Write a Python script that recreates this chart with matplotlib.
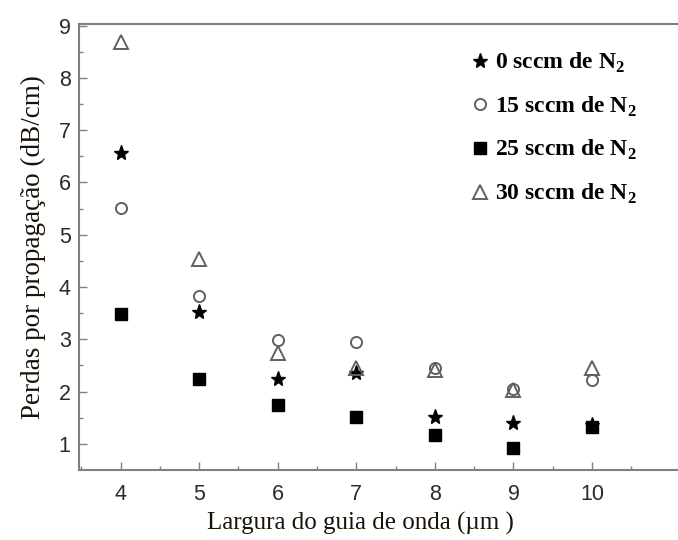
import matplotlib.pyplot as plt
import numpy as np

# largura do guia (um)
largura = [4, 5, 6, 7, 8, 9, 10]

# perdas por propagacao (dB/cm) para cada fluxo de N2
perdas_0 = [6.57, 3.53, 2.24, 2.36, 1.52, 1.40, 1.36]
perdas_15 = [5.51, 3.82, 2.99, 2.94, 2.45, 2.05, 2.22]
perdas_25 = [3.49, 2.24, 1.75, 1.52, 1.17, 0.92, 1.33]
perdas_30 = [8.69, 4.54, 2.73, 2.46, 2.41, 2.03, 2.45]

rotulos = [r'0 sccm de N$_\mathbf{2}$', r'15 sccm de N$_\mathbf{2}$',
           r'25 sccm de N$_\mathbf{2}$', r'30 sccm de N$_\mathbf{2}$']

plt.rcParams['mathtext.fontset'] = 'custom'
plt.rcParams['mathtext.rm'] = 'Liberation Serif'
plt.rcParams['mathtext.bf'] = 'Liberation Serif:bold'

fig = plt.figure(figsize=(6.78, 5.4), dpi=100)
ax = fig.add_axes([79 / 678, 70 / 540, 1 - 79 / 678 + 0.01, 446 / 540])

cinza = '#606060'
ax.plot(largura, perdas_0, linestyle='none', marker='*', markersize=11,
        color='black', label=rotulos[0])
ax.plot(largura, perdas_15, linestyle='none', marker='o', markersize=8,
        markerfacecolor='none', markeredgecolor=cinza, markeredgewidth=1.4,
        label=rotulos[1])
ax.plot(largura, perdas_25, linestyle='none', marker='s', markersize=8,
        color='black', label=rotulos[2])
ax.plot(largura, perdas_30, linestyle='none', marker='^', markersize=10,
        markerfacecolor='none', markeredgecolor=cinza, markeredgewidth=1.4,
        label=rotulos[3])

ax.set_xlim(3.47, 11.18)
ax.set_ylim(0.5, 9.03)
ax.set_xticks(largura)
ax.set_xticks(np.arange(3.5, 11, 0.5), minor=True)
ax.set_yticks(range(1, 10))
ax.set_yticks(np.arange(1.5, 9, 0.5), minor=True)

for s in ['left', 'bottom', 'top']:
    ax.spines[s].set_color('#808080')
    ax.spines[s].set_linewidth(1.5)
ax.spines['right'].set_visible(False)

ax.tick_params(which='both', direction='in', color='#808080',
               labelcolor='#2a2a2a', labelsize=15.5, top=False, right=False)
ax.tick_params(which='major', length=6, width=1, pad=6)
ax.tick_params(axis='x', which='major', pad=10)
ax.tick_params(which='minor', length=3, width=1)
for lbl in ax.get_xticklabels() + ax.get_yticklabels():
    lbl.set_fontfamily('Liberation Sans')

ax.set_xlabel('Largura do guia de onda (\u00b5m )', family='Liberation Serif',
              fontsize=18, color='#1a1208')
ax.xaxis.set_label_coords(0.464, -0.095)
ax.set_ylabel('Perdas por propaga\u00e7\u00e3o (dB/cm)', family='Liberation Serif',
              fontsize=19.5, color='#1a1208', labelpad=9)

ax.legend(loc='upper left', bbox_to_anchor=(0.632, 0.955), frameon=False,
          prop={'family': 'Liberation Serif', 'weight': 'bold', 'size': 17},
          handletextpad=0.2, labelspacing=0.82, handlelength=0.9,
          borderaxespad=0.0, borderpad=0.3)

fig.savefig('out.png', dpi=100)
